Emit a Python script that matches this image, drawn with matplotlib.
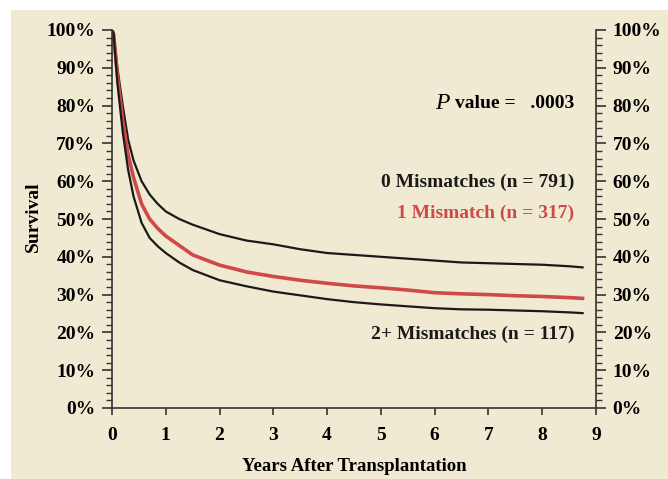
import matplotlib.pyplot as plt
from matplotlib.patches import Rectangle
from matplotlib.ticker import MultipleLocator, FuncFormatter

# Kaplan-Meier style survival by HLA mismatch group
years = [0, 0.03, 0.1, 0.2, 0.3, 0.4, 0.55, 0.7, 0.85, 1.0, 1.25, 1.5, 2.0, 2.5,
         3.0, 3.5, 4.0, 4.5, 5.0, 5.5, 6.0, 6.5, 7.0, 7.5, 8.0, 8.5, 8.75]
surv_0mm = [100, 99, 90, 80, 71, 65.5, 60, 56.5, 54, 52, 50, 48.5, 46, 44.3,
            43.3, 42, 41, 40.5, 40, 39.5, 39, 38.5, 38.3, 38.1, 37.9, 37.5, 37.2]
surv_1mm = [100, 99, 88, 76, 67, 61, 54, 50, 47.5, 45.5, 43, 40.5, 37.8, 36,
            34.8, 33.8, 33, 32.3, 31.8, 31.2, 30.5, 30.2, 30, 29.7, 29.5, 29.2, 29]
surv_2mm = [100, 99, 86, 73, 63, 56, 49, 45, 42.8, 41, 38.5, 36.5, 33.8, 32.2,
            30.8, 29.8, 28.8, 28, 27.4, 26.9, 26.4, 26.1, 26, 25.8, 25.6, 25.3, 25.1]

labels = ['0 Mismatches (n = 791)', '1 Mismatch (n = 317)', '2+ Mismatches (n = 117)']
p_text = '.0003'

bg = '#f0ead2'
red = '#d04848'
plt.rcParams['font.family'] = ['Liberation Serif', 'DejaVu Serif']
plt.rcParams['font.weight'] = 'bold'

fig = plt.figure(figsize=(6.68, 4.79), dpi=100, facecolor='white')
fig.patches.append(Rectangle((11 / 668, 0), 1, 1 - 10 / 479, transform=fig.transFigure,
                             facecolor=bg, edgecolor='none', zorder=-10))
ax = fig.add_axes([112 / 668, 1 - 408 / 479, 484 / 668, 378 / 479])
ax.set_facecolor(bg)

ax.plot(years, surv_0mm, color='#1a1a1a', lw=1.6)
ax.plot(years, surv_1mm, color=red, lw=2.6)
ax.plot(years, surv_2mm, color='#1a1a1a', lw=1.6)

ax.set_xlim(0, 9)
ax.set_ylim(0, 100)
ax.spines['top'].set_visible(False)
for s in ['left', 'right', 'bottom']:
    ax.spines[s].set_color('#333333')
    ax.spines[s].set_linewidth(1.2)

ax.xaxis.set_major_locator(MultipleLocator(1))
ax.yaxis.set_major_locator(MultipleLocator(10))
ax.yaxis.set_minor_locator(MultipleLocator(2))
ax.yaxis.set_major_formatter(FuncFormatter(lambda v, p: f'{int(v)}%'))
ax.tick_params(axis='y', which='both', left=True, right=True, labelleft=True,
               labelright=True, direction='out', color='#333333')
ax.tick_params(axis='y', which='major', length=7, width=1.2, labelsize=14, pad=5)
ax.tick_params(axis='y', which='minor', length=4, width=1)
ax.tick_params(axis='x', which='major', length=5, width=1.2, labelsize=14,
               direction='out', color='#333333', pad=9)
for lab in ax.get_xticklabels() + ax.get_yticklabels():
    lab.set_fontweight('bold')

ax.set_xlabel('Years After Transplantation', fontsize=13.5, fontweight='bold', labelpad=10)
fig.text(33 / 668, 1 - 217 / 479, 'Survival', rotation=90, ha='center', va='center',
         fontsize=14, fontweight='bold')

tx = 0.955
vt = ax.text(tx, 0.805, 'value =   ' + p_text, transform=ax.transAxes,
             ha='right', va='center', fontsize=14, fontweight='bold')
ax.annotate('P', xy=(0, 0.5), xycoords=vt, xytext=(-4, 0), textcoords='offset points',
            ha='right', va='center', fontsize=17, fontstyle='italic', fontweight='normal')
ax.text(tx, 0.598, labels[0], transform=ax.transAxes, ha='right', va='center',
        fontsize=14, fontweight='bold', color='#1a1a1a')
ax.text(tx, 0.516, labels[1], transform=ax.transAxes, ha='right', va='center',
        fontsize=14, fontweight='bold', color=red)
ax.text(tx, 0.196, labels[2], transform=ax.transAxes, ha='right', va='center',
        fontsize=14, fontweight='bold', color='#1a1a1a')

fig.savefig('out.png', dpi=100, facecolor=fig.get_facecolor())
